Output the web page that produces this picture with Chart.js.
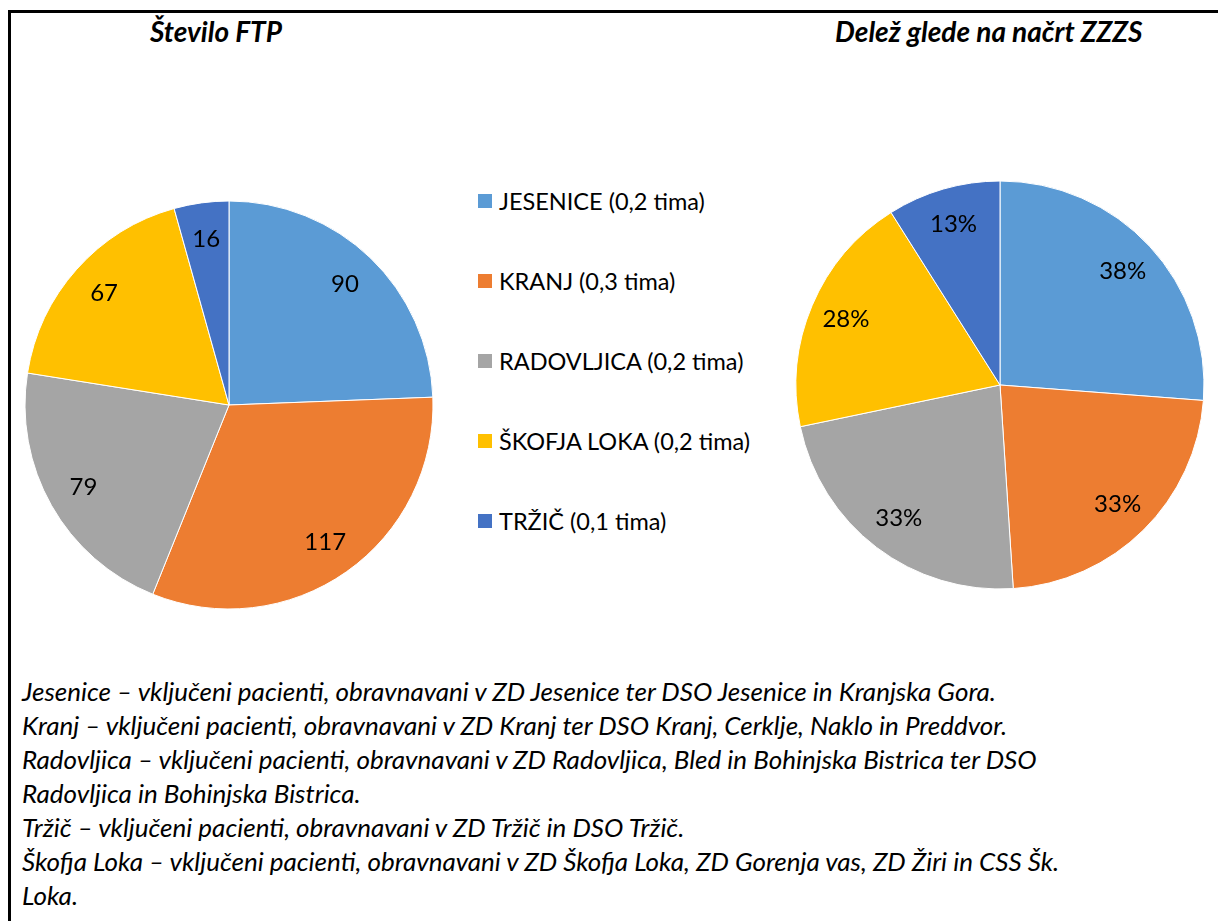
<!DOCTYPE html>
<html>
<head>
<meta charset="utf-8">
<script src="https://cdn.jsdelivr.net/npm/chart.js@4.4.1/dist/chart.umd.min.js"></script>
<style>
  body { margin: 0; background: #fff; font-family: Lato, "Open Sans", sans-serif; }
  #page { position: relative; width: 1218px; height: 921px; overflow: hidden; }
  #frame { position: absolute; left: 8px; top: 10px; right: -5px; bottom: -5px; border-left: 3px solid #000; border-top: 3px solid #000; }
  .title { position: absolute; top: 13px; font-weight: bold; font-style: italic; font-size: 28px; line-height: 36px; color: #000; white-space: nowrap; }
  #chart-left { position: absolute; left: 24px; top: 200px; }
  #chart-right { position: absolute; left: 795px; top: 180px; }
  #legend { position: absolute; left: 478px; top: 188px; }
  .leg-item { position: relative; height: 80px; font-size: 23.5px; white-space: nowrap; }
  .leg-item span.box { position: absolute; left: 0; top: 6px; width: 14px; height: 14px; }
  .leg-item span.txt { position: absolute; left: 21px; top: -2px; line-height: 30px; color: #000; }
  #notes { position: absolute; left: 22px; top: 674px; font-style: italic; font-size: 26px; line-height: 34px; color: #000; white-space: nowrap; }
</style>
</head>
<body>
<div id="page">
  <div id="frame"></div>
  <div class="title" style="left:150px">Število FTP</div>
  <div class="title" style="left:835px">Delež glede na načrt ZZZS</div>
  <canvas id="chart-left" width="410" height="410"></canvas>
  <canvas id="chart-right" width="410" height="410"></canvas>
  <div id="legend"></div>
  <div id="notes"></div>
</div>
<script>
// data
const regions = ['JESENICE (0,2 tima)', 'KRANJ (0,3 tima)', 'RADOVLJICA (0,2 tima)', 'ŠKOFJA LOKA (0,2 tima)', 'TRŽIČ (0,1 tima)'];
const ftpCounts = [90, 117, 79, 67, 16];
const planShare = [38, 33, 33, 28, 13];
const sliceColors = ['#5B9BD5', '#ED7D31', '#A5A5A5', '#FFC000', '#4472C4'];

const notes = [
    'Jesenice – vključeni pacienti, obravnavani v ZD Jesenice ter DSO Jesenice in Kranjska Gora.',
    'Kranj – vključeni pacienti, obravnavani v ZD Kranj ter DSO Kranj, Cerklje, Naklo in Preddvor.',
    'Radovljica – vključeni pacienti, obravnavani v ZD Radovljica, Bled in Bohinjska Bistrica ter DSO',
    'Radovljica in Bohinjska Bistrica.',
    'Tržič – vključeni pacienti, obravnavani v ZD Tržič in DSO Tržič.',
    'Škofja Loka – vključeni pacienti, obravnavani v ZD Škofja Loka, ZD Gorenja vas, ZD Žiri in CSS Šk.',
    'Loka.'
];

// labels inside slices
const sliceLabels = {
    id: 'sliceLabels',
    afterDatasetsDraw(chart, args, opts) {
        const ctx = chart.ctx;
        const meta = chart.getDatasetMeta(0);
        const values = chart.data.datasets[0].data;
        ctx.save();
        ctx.font = '24px Lato, "Open Sans", sans-serif';
        ctx.fillStyle = '#000';
        ctx.textAlign = 'center';
        ctx.textBaseline = 'middle';
        meta.data.forEach((arc, i) => {
            const p = arc.getProps(['x', 'y', 'startAngle', 'endAngle', 'outerRadius'], true);
            const mid = (p.startAngle + p.endAngle) / 2;
            const r = p.outerRadius * 0.82;
            ctx.fillText(values[i] + (opts.suffix || ''), p.x + Math.cos(mid) * r, p.y + Math.sin(mid) * r);
        });
        ctx.restore();
    }
};

function makePie(id, values, suffix) {
    return new Chart(document.getElementById(id), {
        type: 'pie',
        data: {
            labels: regions,
            datasets: [{
                data: values,
                backgroundColor: sliceColors,
                borderColor: '#ffffff',
                borderWidth: 1
            }]
        },
        options: {
            responsive: false,
            animation: false,
            radius: 204,
            layout: { padding: 0 },
            plugins: {
                legend: { display: false },
                tooltip: { enabled: false },
                sliceLabels: { suffix: suffix }
            }
        },
        plugins: [sliceLabels]
    });
}

makePie('chart-left', ftpCounts, '');
makePie('chart-right', planShare, '%');

// legend in the middle
const legend = document.getElementById('legend');
regions.forEach((name, i) => {
    const item = document.createElement('div');
    item.className = 'leg-item';
    item.innerHTML = '<span class="box" style="background:' + sliceColors[i] + '"></span><span class="txt">' + name + '</span>';
    legend.appendChild(item);
});

document.getElementById('notes').innerHTML = notes.map(t => '<div>' + t + '</div>').join('');
</script>
</body>
</html>
